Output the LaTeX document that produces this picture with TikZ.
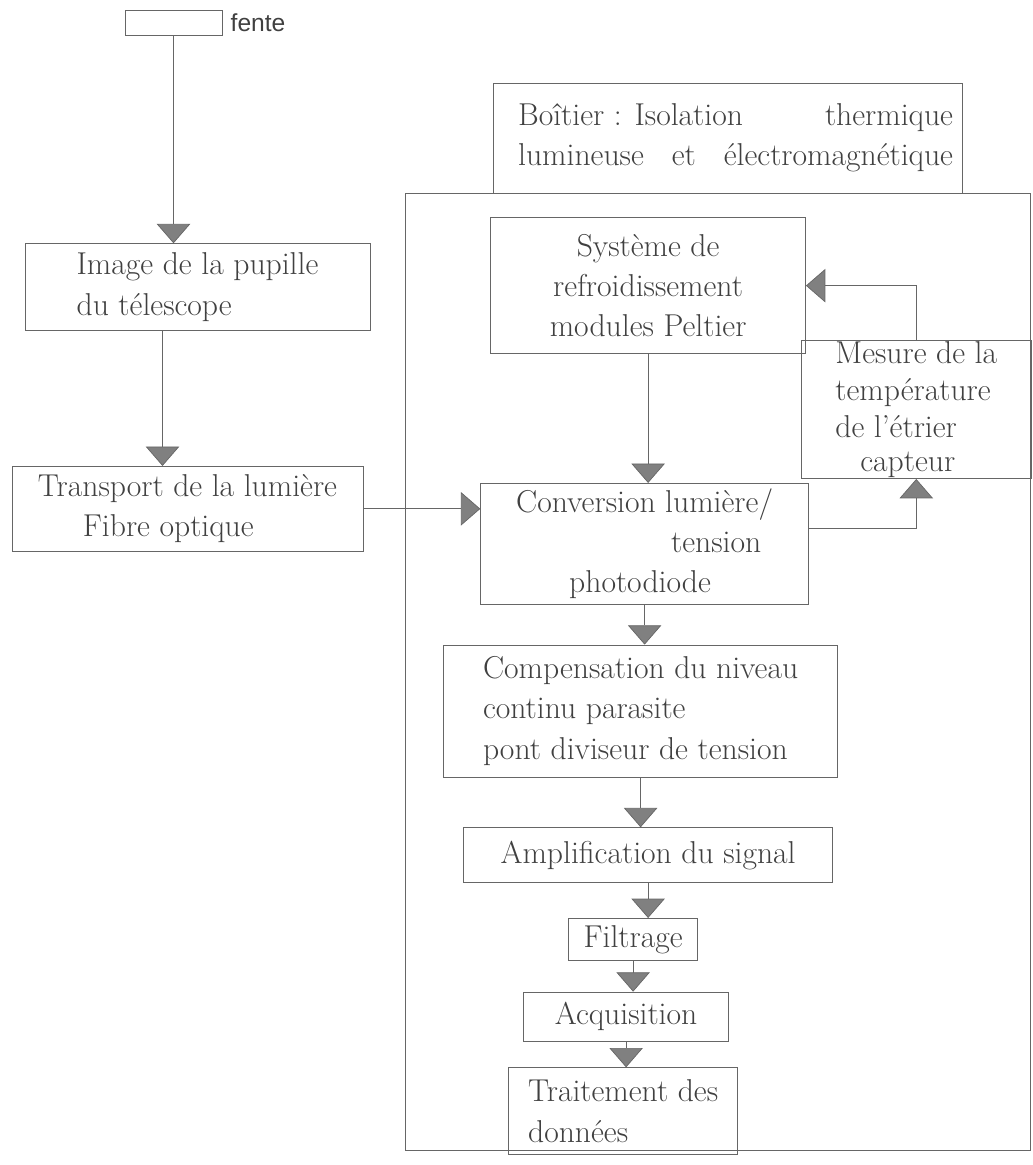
\documentclass[tikz,border=0pt]{standalone}
\usepackage{fontspec}
\newfontfamily\slitfont{Liberation Sans}
\usetikzlibrary{positioning, arrows.meta}

\tikzset{
	block/.style={draw=black!60, rectangle, inner sep=1pt, text=black!75, font=\fontsize{18}{23}\selectfont},
	flow/.style={draw=black!60, -{Triangle[width=19pt, length=11pt, fill=black!50]}},
}

\begin{document}
\begin{tikzpicture}[x=0.02cm, y=-0.02cm]
	\useasboundingbox (0,0) rectangle (1033,1165);

	% optical path, left
	\node[block, minimum width=1.94cm, minimum height=0.5cm] (slit) at (173.5,22.5) {};
	\node[right=0.16cm of slit, inner sep=0pt, text=black!75, font=\slitfont\fontsize{14}{16}\selectfont] (slitname) {fente};
	\node[block, below=4.16cm of slit, xshift=0.48cm, minimum width=6.9cm, minimum height=1.74cm, align=left] (pupil) {Image de la pupille\\du télescope};
	\node[block, below=2.7cm of pupil, xshift=-0.2cm, minimum width=7.02cm, minimum height=1.7cm, align=left] (fibre) {Transport de la lumière\\\hspace*{0.9cm}Fibre optique};

	% casing
	\node[draw=black!60, minimum width=12.5cm, minimum height=19.14cm, inner sep=0pt] (casing) at (717.5,671.5) {};
	\node[block, right=2.34cm of fibre, yshift=-0.7cm, minimum width=6.56cm, minimum height=2.42cm, align=left] (conv) {Conversion lumière/\\\hspace*{3.1cm}tension\\\hspace*{1.06cm}photodiode};
	\node[block, above=2.58cm of conv, xshift=0.07cm, minimum width=6.3cm, minimum height=2.72cm, align=center] (cool) {Système de\\refroidissement\\modules Peltier};
	\node[block, above right=0.08cm and -0.16cm of conv.north east, anchor=south west, inner ysep=0pt, minimum width=4.6cm, minimum height=2.76cm, align=left, font=\fontsize{18}{21}\selectfont] (probe) {Mesure de la\\température\\de l'étrier\\[-2pt]\hspace*{0.5cm}capteur};
	\node[block, above=0.48cm of cool, xshift=1.6cm, minimum width=9.38cm, minimum height=2.2cm, align=left] (casingname) {\hspace*{0.3cm}\makebox[8.7cm][l]{Boîtier : Isolation\hfill thermique}\\\hspace*{0.3cm}\makebox[8.7cm][s]{lumineuse et électromagnétique}};

	% signal chain
	\node[block, below=0.8cm of conv, xshift=-0.08cm, minimum width=7.88cm, minimum height=2.64cm, align=left] (offset) {Compensation du niveau\\continu parasite\\pont diviseur de tension};
	\node[block, below=1cm of offset, xshift=0.15cm, minimum width=7.38cm, minimum height=1.1cm] (amp) {Amplification du signal};
	\node[block, below=0.7cm of amp, xshift=-0.3cm, minimum width=2.58cm, minimum height=0.84cm] (filter) {Filtrage};
	\node[block, below=0.62cm of filter, xshift=-0.14cm, minimum width=4.1cm, minimum height=0.98cm] (acq) {Acquisition};
	\node[block, below=0.52cm of acq, xshift=-0.06cm, minimum width=4.58cm, minimum height=1.74cm, align=left] (proc) {Traitement des\\données};

	\path
		(slit) edge[flow] (slit.south |- pupil.north)
		([xshift=-0.7cm]pupil.south) edge[flow] ([xshift=-0.7cm]pupil.south |- fibre.north)
		(fibre.east) edge[flow] (fibre.east -| conv.west)
		(cool) edge[flow] (cool.south |- conv.north)
		(conv) edge[flow] (conv.south |- offset.north)
		(offset) edge[flow] (offset.south |- amp.north)
		(amp) edge[flow] (amp.south |- filter.north)
		(filter) edge[flow] (filter.south |- acq.north)
		(acq) edge[flow] (acq.south |- proc.north)
		;
	\draw[flow] (probe.north) |- (cool.east);
	\draw[flow] ([yshift=0.3cm]conv.east) -| (probe.south);
\end{tikzpicture}
\end{document}
